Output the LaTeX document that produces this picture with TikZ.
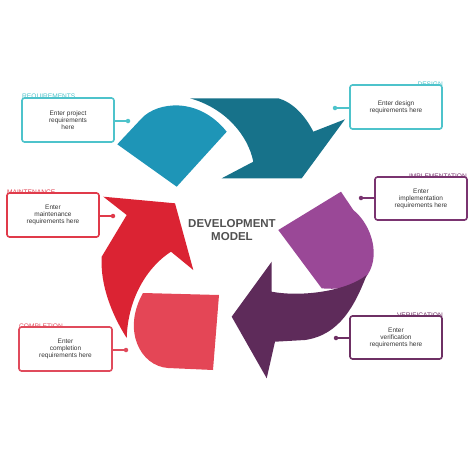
\documentclass[tikz,border=0pt]{standalone}
\usepackage{fontspec}
\setmainfont{Liberation Sans}
\definecolor{blueA}{HTML}{1E95B7}
\definecolor{tealA}{HTML}{17728A}
\definecolor{purpA}{HTML}{9A4897}
\definecolor{purpB}{HTML}{5E2B5A}
\definecolor{redA}{HTML}{DB2333}
\definecolor{redB}{HTML}{E44656}
\definecolor{cyanbox}{HTML}{4EC3CB}
\definecolor{purpbox}{HTML}{7A3470}
\definecolor{purpbox2}{HTML}{6E3064}
\definecolor{redbox}{HTML}{E03A4A}
\definecolor{redbox2}{HTML}{E04B5C}
\definecolor{txtgray}{HTML}{363636}
\definecolor{titlegray}{HTML}{505050}
\begin{document}
\begin{tikzpicture}[x=1pt,y=-1pt,
  infobox/.style={draw=#1, line width=1.6pt, rounded corners=2.5pt, fill=white,
    align=center, font=\fontsize{6.5}{7}\selectfont, text=txtgray, inner sep=0pt,
    minimum width=92pt, minimum height=44pt},
  lbl/.style={text=#1, font=\fontsize{6.6}{7}\selectfont, inner sep=0pt},
  dotnode/.style={circle, fill=#1, inner sep=0pt, minimum size=4.5pt},
  conn/.style={draw=#1, line width=1.6pt}]
\useasboundingbox (0,0) rectangle (474,474);

% ---- cycle shapes ----
\fill[blueA] (117.3,144.3) -- (141.7,118.3) .. controls (157,102) and (198,96) .. (226.7,131.7) -- (176.7,186.7) -- cycle;
\fill[tealA] (190,98.3) -- (278.3,98.3) .. controls (292,102) and (305,115) .. (313.3,131.7) -- (345,119.3) -- (301.7,178.3) -- (221.7,178.3) -- (253.3,161.7) .. controls (248,135) and (225,108) .. (190,98.3) -- cycle;
\fill[purpA] (278.3,230) -- (341,191.7) -- (353.3,210) .. controls (372,225) and (382,258) .. (365,278.3) .. controls (358,287) and (340,290) .. (321.7,288.3) -- cycle;
\fill[purpB] (231.7,316.7) -- (271.7,261.7) -- (271.7,291.7) .. controls (300,297) and (345,292) .. (366.7,275) .. controls (355,305) and (340,335) .. (305,340) -- (275,341.7) -- (266.7,378.3) -- cycle;
\fill[redA] (126.7,338) .. controls (112,315) and (100,285) .. (101.7,256.7) -- (126.7,215) -- (103.3,196.7) -- (175,203.3) -- (193.3,270) -- (171,251.7) .. controls (150,265) and (128,295) .. (126.7,338) -- cycle;
\fill[redB] (143,293) -- (219,295) -- (213,370) -- (168,368) .. controls (140,366) and (122,330) .. (143,293) -- cycle;

\node[font=\bfseries\fontsize{11.5}{13}\selectfont, text=titlegray, align=center] (title) at (232,230) {DEVELOPMENT\\MODEL};

% ---- labels (drawn under the boxes) ----
\node[lbl=cyanbox, anchor=south west] (lreq) at (22,100) {REQUIREMENTS};
\node[lbl=cyanbox, anchor=south east] (ldes) at (443,87) {DESIGN};
\node[lbl=purpbox, anchor=south east] (limp) at (467,179) {IMPLEMENTATION};
\node[lbl=redbox, anchor=south west] (lmai) at (7,195) {MAINTENANCE};
\node[lbl=redbox2, anchor=south west] (lcom) at (19,329) {COMPLETION};
\node[lbl=purpbox2, anchor=south east] (lver) at (443,318) {VERIFICATION};

% ---- boxes ----
\node[infobox=cyanbox] (breq) at (68,120) {Enter project\\requirements\\here};
\node[infobox=cyanbox] (bdes) at (396,107) {Enter design\\requirements here};
\node[infobox=purpbox, minimum height=43pt] (bimp) at (421,198.5) {Enter\\implementation\\requirements here};
\node[infobox=redbox] (bmai) at (53,215) {Enter\\maintenance\\requirements here};
\node[infobox=redbox2, minimum width=93pt] (bcom) at (65.5,349) {Enter\\completion\\requirements here};
\node[infobox=purpbox2, minimum height=43pt] (bver) at (396,337.5) {Enter\\verification\\requirements here};

% ---- dots and connectors ----
\node[dotnode=cyanbox] (dreq) at (128,121) {};
\node[dotnode=cyanbox] (ddes) at (335,108) {};
\node[dotnode=purpbox] (dimp) at (361,198) {};
\node[dotnode=redbox] (dmai) at (113,216) {};
\node[dotnode=redbox2] (dcom) at (126,350) {};
\node[dotnode=purpbox2] (dver) at (336,338) {};
\draw[conn=cyanbox] (breq.east |- dreq) -- (dreq.center);
\draw[conn=cyanbox] (bdes.west |- ddes) -- (ddes.center);
\draw[conn=purpbox] (bimp.west |- dimp) -- (dimp.center);
\draw[conn=redbox] (bmai.east |- dmai) -- (dmai.center);
\draw[conn=redbox2] (bcom.east |- dcom) -- (dcom.center);
\draw[conn=purpbox2] (bver.west |- dver) -- (dver.center);
\end{tikzpicture}
\end{document}
